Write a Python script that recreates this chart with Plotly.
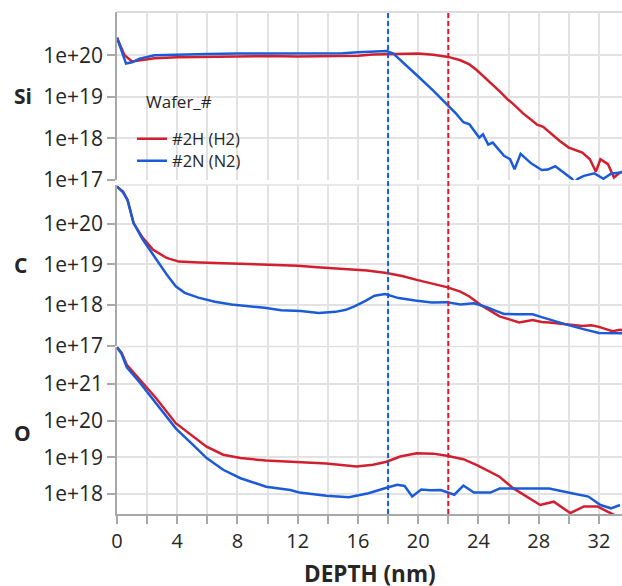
import plotly.graph_objects as go

# ---------------- data (log10 of concentration) ----------------
si_h2_depth = [0.0, 0.5, 1.0, 1.5, 2.5, 4, 6, 8, 10, 12, 14, 16, 17, 18, 19, 20, 21, 22, 22.8, 23.4, 23.9,
               24.5, 25.0, 25.5, 25.9, 26.3, 27.0, 27.5, 27.9, 28.3, 28.8, 29.4, 30.0, 30.5, 30.9, 31.4,
               31.8, 32.1, 32.6, 33.0, 33.4, 33.6]
si_h2_log = [20.42, 20.0, 19.85, 19.88, 19.93, 19.95, 19.96, 19.97, 19.98, 19.97, 19.98, 19.99, 20.02, 20.03,
             20.04, 20.04, 20.01, 19.96, 19.88, 19.78, 19.64, 19.45, 19.27, 19.10, 18.95, 18.83, 18.59,
             18.45, 18.33, 18.28, 18.12, 17.94, 17.78, 17.72, 17.66, 17.50, 17.20, 17.50, 17.38, 17.06,
             17.18, 17.20]

si_n2_depth = [0, 0.6, 1.0, 1.5, 2.5, 4, 6, 8, 10, 12, 14, 15, 16, 17, 17.9, 18.35, 19, 20, 21, 21.9, 22.5,
               23.0, 23.4, 24.05, 24.3, 24.65, 24.95, 25.7, 26.1, 26.4, 26.8, 27.5, 28.2, 28.6, 29.1, 29.5,
               30.2, 30.4, 30.6, 31.0, 31.7, 32.3, 32.8, 33.4, 33.6]
si_n2_log = [20.42, 19.80, 19.83, 19.92, 20.0, 20.02, 20.03, 20.04, 20.04, 20.04, 20.04, 20.05, 20.07, 20.09,
             20.10, 20.04, 19.83, 19.49, 19.15, 18.83, 18.60, 18.39, 18.34, 18.02, 18.10, 17.85, 17.90,
             17.58, 17.50, 17.26, 17.63, 17.40, 17.24, 17.25, 17.33, 17.22, 17.03, 16.95, 17.03, 17.10,
             17.16, 17.03, 17.15, 17.18, 17.20]

c_h2_depth = [0, 0.4, 0.7, 1.1, 1.7, 2.4, 3.3, 4.1, 5.5, 7.6, 9.8, 12.0, 13.3, 14.5, 16.6, 17.9, 19.0, 19.9,
              21.0, 21.9, 22.8, 23.4, 24.2, 24.8, 25.4, 26.0, 26.7, 27.6, 28.2, 28.7, 29.8, 30.9, 31.5,
              32.0, 32.9, 33.4, 33.6]
c_h2_log = [20.92, 20.80, 20.59, 20.02, 19.66, 19.36, 19.16, 19.07, 19.05, 19.03, 19.0, 18.97, 18.93, 18.90,
            18.85, 18.79, 18.71, 18.62, 18.52, 18.44, 18.33, 18.21, 17.99, 17.85, 17.72, 17.65, 17.57,
            17.63, 17.58, 17.57, 17.52, 17.48, 17.50, 17.46, 17.35, 17.39, 17.38]

c_n2_depth = [0, 0.4, 0.7, 1.1, 1.7, 2.6, 3.3, 3.9, 4.5, 5.4, 6.5, 7.6, 8.7, 9.8, 10.9, 12.2, 13.4, 14.5,
              15.2, 15.8, 16.5, 17.1, 17.8, 18.7, 19.8, 20.9, 21.9, 22.8, 23.7, 24.6, 25.2, 25.7, 26.5,
              27.6, 28.2, 28.7, 29.8, 30.9, 32.0, 33.4, 33.6]
c_n2_log = [20.92, 20.78, 20.59, 20.02, 19.62, 19.12, 18.75, 18.46, 18.30, 18.18, 18.08, 18.01, 17.97, 17.93,
            17.87, 17.85, 17.80, 17.83, 17.88, 17.97, 18.10, 18.23, 18.27, 18.17, 18.11, 18.06, 18.07,
            18.01, 18.04, 17.94, 17.85, 17.78, 17.77, 17.77, 17.70, 17.64, 17.52, 17.41, 17.31, 17.30,
            17.30]

o_h2_depth = [0, 0.3, 0.65, 1.55, 2.6, 3.9, 5.05, 5.95, 7.05, 8.2, 9.9, 12.1, 13.9, 15.9, 17.0, 17.9, 18.8,
              19.9, 21.0, 21.9, 23.0, 23.9, 24.7, 25.4, 26.3, 27.2, 28.1, 29.0, 30.1, 31.0, 31.9, 33.0,
              33.4]
o_h2_log = [22.0, 21.85, 21.52, 21.11, 20.61, 19.93, 19.56, 19.29, 19.07, 18.98, 18.91, 18.86, 18.83, 18.75,
            18.80, 18.88, 19.02, 19.11, 19.10, 19.04, 18.95, 18.79, 18.62, 18.47, 18.16, 17.93, 17.70,
            17.79, 17.48, 17.66, 17.66, 17.43, 17.30]

o_n2_depth = [0, 0.3, 0.65, 1.55, 2.6, 3.9, 5.05, 5.95, 7.05, 8.2, 9.9, 11.5, 12.1, 13.9, 15.4, 16.7, 17.9,
              18.6, 19.1, 19.6, 20.2, 20.8, 21.5, 22.4, 23.0, 23.7, 24.8, 25.4, 26.5, 27.6, 28.7, 30.2,
              31.3, 32.1, 32.8, 33.4]
o_n2_log = [22.0, 21.82, 21.45, 21.02, 20.47, 19.79, 19.34, 18.98, 18.66, 18.43, 18.20, 18.11, 18.04, 17.95,
            17.91, 18.02, 18.17, 18.25, 18.22, 17.93, 18.12, 18.10, 18.11, 17.98, 18.23, 18.04, 18.04,
            18.15, 18.15, 18.14, 18.15, 18.02, 17.93, 17.70, 17.61, 17.70]

legend_title = "Wafer_#"
series_names = ["#2H (H2)", "#2N (N2)"]
panel_labels = ["Si", "C", "O"]
x_tick_vals = list(range(0, 34, 2))
x_tick_text = [str(v) if v % 4 == 0 else "" for v in x_tick_vals]
si_c_tick_exp = [17, 18, 19, 20]
o_tick_exp = [18, 19, 20, 21]
marker_depths = [18, 22]

# ---------------- styling ----------------
RED = "#d21f2f"
BLUE = "#1c5bd8"
GRID = "#e2e2e2"
AXIS = "#a8a8a8"
TXT = "#262626"
FONT = "Open Sans"

W, H = 622, 586
ML, MR, MT, MB = 117, 0, 12, 72
PW = W - ML - MR
PH = H - MT - MB


def frac(ypx):  # screen y pixel -> paper fraction
    return (H - MB - ypx) / PH


def xfrac(xpx):  # screen x pixel -> paper fraction
    return (xpx - ML) / PW


domains = {
    "y": [frac(180), 1.0],
    "y2": [frac(345.5), frac(185)],
    "y3": [0.0, frac(346.5)],
}
ranges = {"y": [17, 21.04], "y2": [17, 20.96], "y3": [17.455, 22.02]}

fig = go.Figure()

data = [
    ("x", "y", si_h2_depth, si_h2_log, si_n2_depth, si_n2_log),
    ("x2", "y2", c_h2_depth, c_h2_log, c_n2_depth, c_n2_log),
    ("x3", "y3", o_h2_depth, o_h2_log, o_n2_depth, o_n2_log),
]
for i, (xa, ya, dh, lh, dn, ln) in enumerate(data):
    fig.add_trace(go.Scatter(x=dh, y=[10.0 ** v for v in lh], xaxis=xa, yaxis=ya, mode="lines",
                             line=dict(color=RED, width=2.5), name=series_names[0],
                             showlegend=(i == 0), legend="legend"))
    fig.add_trace(go.Scatter(x=dn, y=[10.0 ** v for v in ln], xaxis=xa, yaxis=ya, mode="lines",
                             line=dict(color=BLUE, width=2.5), name=series_names[1],
                             showlegend=(i == 0), legend="legend2"))

xmax = PW / 15.06
common_x = dict(range=[0, xmax], tickvals=x_tick_vals, ticktext=x_tick_text, showgrid=True,
                gridcolor=GRID, gridwidth=1.5, zeroline=False, domain=[0, 1], automargin=False)
fig.update_layout(
    xaxis=dict(**common_x, anchor="y", matches="x3", showticklabels=False, ticks=""),
    xaxis2=dict(**common_x, anchor="y2", matches="x3", showticklabels=False, ticks=""),
    xaxis3=dict(**common_x, anchor="y3", showticklabels=True, ticks="outside", ticklen=8,
                tickcolor=AXIS, tickwidth=1.5, showline=True, linecolor=AXIS, linewidth=1.5,
                tickfont=dict(family=FONT, size=20, color=TXT)),
)

for ya in ["y", "y2", "y3"]:
    exps = o_tick_exp if ya == "y3" else si_c_tick_exp
    key = "yaxis" if ya == "y" else "yaxis" + ya[1:]
    fig.layout[key] = dict(
        type="log", range=ranges[ya], domain=domains[ya],
        anchor="x" if ya == "y" else "x" + ya[1:],
        tickvals=[10.0 ** e for e in exps], ticktext=["1e+%d" % e for e in exps],
        showgrid=True, gridcolor=GRID, gridwidth=1.5, zeroline=False,
        ticks="outside", ticklen=8, tickcolor=AXIS, tickwidth=1.5,
        showline=True, linecolor=AXIS, linewidth=1.5, automargin=False,
        tickfont=dict(family=FONT, size=21, color=TXT),
    )

shapes = []
# top frame lines of each panel
for ya in ["y", "y2", "y3"]:
    top = domains[ya][1]
    shapes.append(dict(type="line", xref="paper", yref="paper", x0=0, x1=1, y0=top, y1=top,
                       line=dict(color=GRID if ya != "y" else "#d0d0d0", width=1.5), layer="below"))
# legend box background
shapes.append(dict(type="rect", xref="paper", yref="paper", x0=xfrac(142), x1=xfrac(278),
                   y0=frac(174), y1=frac(78), fillcolor="rgba(255,255,255,0.97)",
                   line=dict(width=0), layer="between"))
for d, col in zip(marker_depths, [BLUE, RED]):
    shapes.append(dict(type="line", xref="x3", yref="paper", x0=d, x1=d, y0=0, y1=1,
                       line=dict(color=col, width=2, dash="5px,3px"), layer="above"))

annotations = []
centers = [(12 + 180) / 2, (185 + 345.5) / 2, (346.5 + 514) / 2 + 3]
for lab, cy in zip(panel_labels, centers):
    annotations.append(dict(text="<b>%s</b>" % lab, xref="paper", yref="paper",
                            x=xfrac(12), y=frac(cy), xanchor="left", yanchor="middle",
                            showarrow=False, font=dict(family=FONT, size=21, color=TXT)))
annotations.append(dict(text="<b>DEPTH (nm)</b>", xref="paper", yref="paper", x=0.5, y=frac(573),
                        xanchor="center", yanchor="middle", showarrow=False,
                        font=dict(family=FONT, size=22.5, color=TXT)))
annotations.append(dict(text=legend_title, xref="paper", yref="paper", x=xfrac(144), y=frac(102),
                        xanchor="left", yanchor="middle", showarrow=False,
                        font=dict(family=FONT, size=17, color=TXT)))

leg_common = dict(xanchor="left", yanchor="middle", bgcolor="rgba(0,0,0,0)", borderwidth=0,
                  font=dict(family=FONT, size=16.5, color=TXT), itemwidth=30)
fig.update_layout(
    width=W, height=H, autosize=False,
    margin=dict(l=ML, r=MR, t=MT, b=MB, autoexpand=False),
    paper_bgcolor="white", plot_bgcolor="white",
    shapes=shapes, annotations=annotations,
    showlegend=True,
    legend=dict(x=xfrac(132), y=frac(139), **leg_common),
    legend2=dict(x=xfrac(132), y=frac(161), **leg_common),
)

fig.write_html("out.html", config={"displayModeBar": False},
               post_script="document.body.style.margin='0px';document.body.style.overflow='hidden';")
